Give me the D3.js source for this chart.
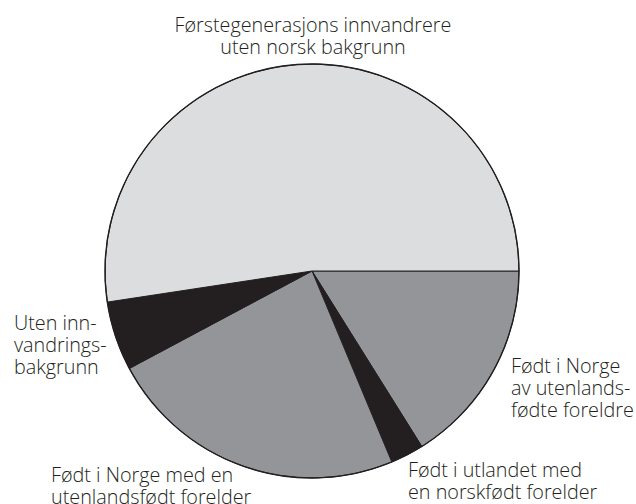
<!DOCTYPE html>
<html>
<head>
<meta charset="utf-8">
<script src="https://cdn.jsdelivr.net/npm/d3@7/dist/d3.min.js"></script>
<style>
  html, body { margin: 0; padding: 0; background: #ffffff; }
  svg { display: block; }
  text { font-family: "Open Sans", "Noto Sans", sans-serif; fill: #231f20; font-weight: 300; }
</style>
</head>
<body>
<div id="chart"></div>
<script>
// ---- Data (percent shares) ----
const categories = [
  "Født i Norge av utenlandsfødte foreldre",
  "Født i utlandet med en norskfødt forelder",
  "Født i Norge med en utenlandsfødt forelder",
  "Uten innvandringsbakgrunn",
  "Førstegenerasjons innvandrere uten norsk bakgrunn"
];
const values = [16.1, 2.6, 23.5, 5.4, 52.4];
const labelLines = [
  ["Født i Norge", "av utenlands-", "fødte foreldre"],
  ["Født i utlandet med", "en norskfødt forelder"],
  ["Født i Norge med en", "utenlandsfødt forelder"],
  ["Uten inn-", "vandrings-", "bakgrunn"],
  ["Førstegenerasjons innvandrere", "uten norsk bakgrunn"]
];
const sliceColors = ["#939598", "#231f20", "#939598", "#231f20", "#dcdddf"];

// ---- Layout ----
const W = 636, H = 504;
const cx = 312, cy = 271, R = 207;

const svg = d3.select("#chart").append("svg")
  .attr("width", W).attr("height", H);

const data = categories.map((c, i) => ({ name: c, value: values[i], lines: labelLines[i], color: sliceColors[i] }));

const pie = d3.pie()
  .value(d => d.value)
  .sort(null)
  .startAngle(Math.PI / 2)
  .endAngle(Math.PI / 2 + 2 * Math.PI);

const arc = d3.arc().innerRadius(0).outerRadius(R);

const g = svg.append("g").attr("transform", `translate(${cx},${cy})`);
const arcs = pie(data);

g.selectAll("path.slice")
  .data(arcs)
  .join("path")
  .attr("class", "slice")
  .attr("d", arc)
  .attr("fill", d => d.data.color)
  .attr("stroke", "#231f20")
  .attr("stroke-width", 1)
  .attr("stroke-linejoin", "round");

// outer outline
g.append("circle")
  .attr("r", R)
  .attr("fill", "none")
  .attr("stroke", "#231f20")
  .attr("stroke-width", 1.4);

// ---- Labels ----
const fontSize = 20.5;
const squeeze = 0.965;   // narrow the glyphs slightly to mimic the reference face
const lineH = 22;
const labelPlacement = [
  { x: 511, y: 373, anchor: "start" },
  { x: 408, y: 477, anchor: "start" },
  { x: 51,  y: 482, anchor: "start" },
  { x: 14,  y: 330, anchor: "start" },
  { x: 313, y: 32,  anchor: "middle" }
];

arcs.forEach((a, i) => {
  const p = labelPlacement[i];
  const t = svg.append("text")
    .attr("transform", `translate(${p.x},${p.y}) scale(${squeeze},1)`)
    .attr("text-anchor", p.anchor)
    .attr("font-size", fontSize);
  a.data.lines.forEach((ln, j) => {
    t.append("tspan")
      .attr("x", 0)
      .attr("y", j * lineH)
      .text(ln);
  });
});
</script>
</body>
</html>
